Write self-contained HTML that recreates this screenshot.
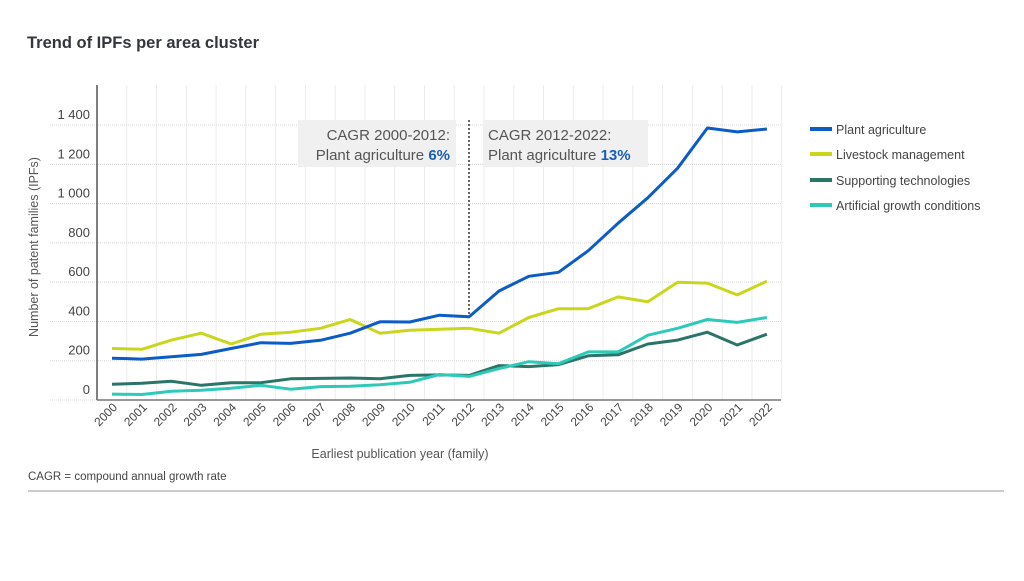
<!DOCTYPE html>
<html><head><meta charset="utf-8">
<style>
body{margin:0;background:#fff;width:1024px;height:576px;overflow:hidden;font-family:"Liberation Sans",sans-serif;}
svg text{font-family:"Liberation Sans",sans-serif;}
</style></head><body>
<svg id="s" width="1024" height="576" xmlns="http://www.w3.org/2000/svg">
<text x="27" y="48" font-size="16.5" font-weight="bold" fill="#33363d">Trend of IPFs per area cluster</text>
<g id="grid"></g>
<line x1="97" y1="85" x2="97" y2="400" stroke="#555" stroke-width="1.5"/>
<line x1="97" y1="400" x2="781" y2="400" stroke="#777" stroke-width="1.5"/>
<rect x="298" y="120" width="158" height="47" fill="#f0f0f0"/>
<rect x="483" y="120" width="165" height="47" fill="#f0f0f0"/>
<text x="450" y="140" font-size="15" fill="#555" text-anchor="end">CAGR 2000-2012:</text>
<text x="450" y="160" font-size="15" fill="#555" text-anchor="end">Plant agriculture <tspan fill="#1a5fb4" font-weight="bold">6%</tspan></text>
<text x="488" y="140" font-size="15" fill="#555">CAGR 2012-2022:</text>
<text x="488" y="160" font-size="15" fill="#555">Plant agriculture <tspan fill="#1a5fb4" font-weight="bold">13%</tspan></text>
<line x1="469" y1="120" x2="469" y2="316" stroke="#333" stroke-width="1.5" stroke-dasharray="2,2"/>
<g id="lines"></g>
<text transform="translate(38,247) rotate(-90)" font-size="12.5" fill="#555" text-anchor="middle">Number of patent families (IPFs)</text>
<text x="400" y="458" font-size="12.5" fill="#555" text-anchor="middle">Earliest publication year (family)</text>
<text x="28" y="480" font-size="11.5" fill="#444">CAGR =  compound annual growth rate</text>
<line x1="28" y1="491" x2="1004" y2="491" stroke="#999" stroke-width="1"/>
<g font-size="12.5" fill="#444">
<rect x="810" y="127" width="22" height="4" fill="#0b5cc4"/><text x="836" y="134">Plant agriculture</text>
<rect x="810" y="152" width="22" height="4" fill="#c9d61c"/><text x="836" y="159">Livestock management</text>
<rect x="810" y="178" width="22" height="4" fill="#2b7468"/><text x="836" y="185">Supporting technologies</text>
<rect x="810" y="203" width="22" height="4" fill="#2ec9b9"/><text x="836" y="210">Artificial growth conditions</text>
</g>
</svg>
<script>
var NS="http://www.w3.org/2000/svg";
function el(p,t,a,txt){var e=document.createElementNS(NS,t);for(var k in a)e.setAttribute(k,a[k]);if(txt!=null)e.textContent=txt;document.getElementById(p).appendChild(e);return e;}
function X(i){return 112+i*29.77;} function Y(v){return 400-v*0.1964;}
for(var i=0;i<=23;i++){var x=97+i*29.77;el("grid","line",{x1:x,y1:85,x2:x,y2:400,stroke:"#ececec","stroke-width":1});}
for(var v=0;v<=1400;v+=200){var y=Y(v);el("grid","line",{x1:50,y1:y,x2:781,y2:y,stroke:"#d8d8d8","stroke-width":1,"stroke-dasharray":"1,1"});
el("grid","text",{x:90,y:y-6,"font-size":13,fill:"#444","text-anchor":"end"},v>=1000?(Math.floor(v/1000)+" "+String(v%1000).padStart(3,"0")):String(v));}
for(var i=0;i<23;i++){var x=X(i)+6,y=408;el("grid","text",{transform:"translate("+x+","+y+") rotate(-45)","font-size":12,fill:"#444","text-anchor":"end"},String(2000+i));}
var D=[["#c9d61c",[262,258,305,340,285,335,345,365,410,340,355,360,365,340,420,465,465,525,500,600,595,535,605]],
["#2b7468",[80,85,95,75,88,88,108,110,112,108,125,128,125,175,170,180,225,230,285,305,345,280,335]],
["#2ec9b9",[30,28,45,50,60,75,55,68,70,78,90,130,120,160,195,185,245,245,330,365,410,395,420]],
["#0b5cc4",[213,208,220,232,262,292,288,304,340,398,397,432,424,555,630,650,760,900,1030,1180,1385,1365,1380]]];
D.forEach(function(d){var p=d[1].map(function(v,i){return X(i).toFixed(1)+","+Y(v).toFixed(1);}).join(" ");
el("lines","polyline",{points:p,fill:"none",stroke:d[0],"stroke-width":3,"stroke-linejoin":"round"});});
</script>
</body></html>
